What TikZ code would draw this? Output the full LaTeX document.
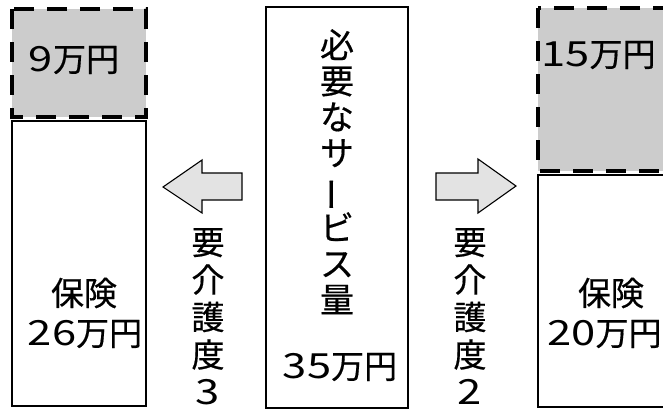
\documentclass[tikz,border=0pt]{standalone}
\usepackage{fontspec}
\usepackage{graphicx}
\newfontfamily\jp[FakeBold=0.5]{Noto Sans CJK JP}
\newfontfamily\jpd{Noto Sans CJK JP}
\newcommand\dg[1]{{\jpd\scalebox{1.32}[1.05]{#1}}}
\newcommand\vbar{\rotatebox[origin=c]{90}{ー}}
\begin{document}
\begin{tikzpicture}[x=1pt,y=-1pt,
  every node/.style={font=\jp\fontsize{33}{36}\selectfont, inner sep=0pt},
  dbox/.style={fill=gray!40, draw=black, line width=3.2pt, dash pattern=on 20pt off 13pt},
  sbox/.style={draw=black, line width=2.4pt},
  arr/.style={draw=black, line width=1.1pt, fill=gray!22, line join=miter},
  vtext/.style={align=center, font=\jp\fontsize{34}{36}\selectfont},
  vtextb/.style={align=center, font=\jp\fontsize{33}{37.5}\selectfont}]
\useasboundingbox (0,0) rectangle (663,410);
\begin{scope}
\clip (0,0) rectangle (663,410);
% left column
\path[dbox] (12,9) rectangle (146,117);
\draw[sbox] (12,121) rectangle (146,406);
\node (l9) at (74,60) {\dg{9}万円};
\node (lhoken) at (84,293) {保険};
\node (l26) at (85,334) {\dg{2}\dg{6}万円};
% middle column
\draw[sbox] (266,7) rectangle (408,408);
\node[vtext, anchor=north] (need) at (337,29) {必\\要\\な\\サ\\\vbar\\ビ\\ス\\量};
\node (m35) at (340,367) {\dg{3}\dg{5}万円};
% arrows
\path[arr] (163,187) -- (202,160) -- (202,173) -- (242,173) -- (242,200) -- (202,200) -- (202,213) -- cycle;
\path[arr] (516,186) -- (478,159) -- (478,173) -- (436,173) -- (436,200) -- (478,200) -- (478,213) -- cycle;
\node[vtextb, anchor=north] (care3) at (208,228) {要\\介\\護\\度\\\dg{3}};
\node[vtextb, anchor=north] (care2) at (470,228) {要\\介\\護\\度\\\dg{2}};
% right column
\path[dbox] (538,8) rectangle (690,171);
\draw[sbox] (538,175) rectangle (690,407);
\node[anchor=west] (r15) at (541,55) {\dg{1}\dg{5}万円};
\node (rhoken) at (611,293) {保険};
\node[anchor=west] (r20) at (547,334) {\dg{2}\dg{0}万円};
\end{scope}
\end{tikzpicture}
\end{document}
